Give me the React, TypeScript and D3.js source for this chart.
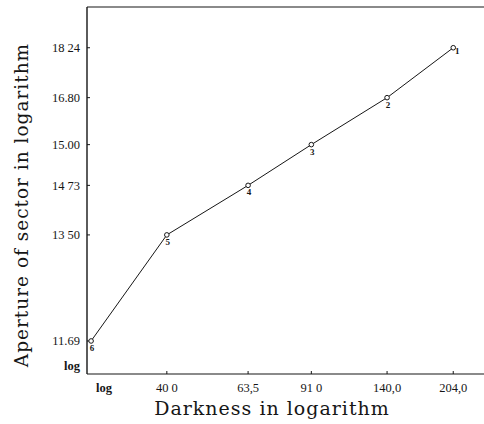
import { useEffect, useRef } from "react";
import * as d3 from "d3";

// Points numbered 1..6 as in the original plate (left to right: 6,5,4,3,2,1)
const pointLabels = ["6", "5", "4", "3", "2", "1"];
// darkness of each point (the first one is unlabeled)
const darkness = [26, 40, 63.5, 91, 140, 204];
// vertical level of each point, as a fraction of the axis height
const apertureLevel = [0.09, 0.379, 0.514, 0.625, 0.753, 0.889];
// labels written at those levels
const apertureLabels = ["11.69", "13 50", "14 73", "15.00", "16.80", "18 24"];
const darknessLabels = ["", "40 0", "63,5", "91 0", "140,0", "204,0"];

export default function App() {
  const svgRef = useRef<SVGSVGElement>(null);

  useEffect(() => {
    const width = 484;
    const height = 424;
    const marginLeft = 87,
      marginTop = 7,
      marginRight = 0,
      marginBottom = 50;
    const font = "'Liberation Serif', 'DejaVu Serif', serif";
    const titleFont = "'DejaVu Serif', serif";
    const ink = "#161616";

    const x = d3
      .scaleLog()
      .domain([25.4, 243])
      .range([marginLeft, width - marginRight]);

    const y = d3
      .scaleLinear()
      .domain([0, 1])
      .range([height - marginBottom, marginTop]);

    const svg = d3
      .select(svgRef.current)
      .attr("width", width)
      .attr("height", height);

    svg.selectAll("*").remove();

    svg.append("rect").attr("width", width).attr("height", height).attr("fill", "#fff");

    // frame: left, top and bottom lines
    const x0 = marginLeft;
    const x1 = width - marginRight;
    const yb = y(0);
    const yt = y(1);
    const frame = svg.append("g").attr("stroke", ink).attr("fill", "none");
    frame.append("line").attr("x1", x0).attr("x2", x0).attr("y1", yt).attr("y2", yb).attr("stroke-width", 1.4);
    frame.append("line").attr("x1", x0).attr("x2", x1).attr("y1", yt).attr("y2", yt).attr("stroke-width", 1.2);
    frame.append("line").attr("x1", x0).attr("x2", x1).attr("y1", yb).attr("y2", yb).attr("stroke-width", 1.2);

    // y ticks and labels
    const yTicks = svg.append("g");
    yTicks
      .selectAll("line")
      .data(apertureLevel)
      .join("line")
      .attr("x1", x0)
      .attr("x2", x0 + 3)
      .attr("y1", (d) => y(d))
      .attr("y2", (d) => y(d))
      .attr("stroke", ink);
    yTicks
      .selectAll("text")
      .data(apertureLevel)
      .join("text")
      .attr("x", x0 - 7)
      .attr("y", (d) => y(d))
      .attr("dy", "0.35em")
      .attr("text-anchor", "end")
      .attr("font-family", font)
      .attr("font-size", 12.5)
      .attr("fill", ink)
      .text((_, i) => apertureLabels[i]);
    svg
      .append("text")
      .attr("x", x0 - 7)
      .attr("y", yb - 8)
      .attr("dy", "0.35em")
      .attr("text-anchor", "end")
      .attr("font-family", font)
      .attr("font-size", 12.5)
      .attr("font-weight", "bold")
      .attr("fill", ink)
      .text("log");

    // x ticks and labels
    const xTicks = svg.append("g");
    xTicks
      .selectAll("line")
      .data(darkness.slice(1))
      .join("line")
      .attr("x1", (d) => x(d))
      .attr("x2", (d) => x(d))
      .attr("y1", yb)
      .attr("y2", yb - 3)
      .attr("stroke", ink);
    xTicks
      .selectAll("text")
      .data(darkness.slice(1))
      .join("text")
      .attr("x", (d) => x(d))
      .attr("y", yb + 18)
      .attr("text-anchor", "middle")
      .attr("font-family", font)
      .attr("font-size", 12.5)
      .attr("fill", ink)
      .text((_, i) => darknessLabels[i + 1]);
    svg
      .append("text")
      .attr("x", x0 + 17)
      .attr("y", yb + 18)
      .attr("text-anchor", "middle")
      .attr("font-family", font)
      .attr("font-size", 12.5)
      .attr("font-weight", "bold")
      .attr("fill", ink)
      .text("log");

    // axis titles
    svg
      .append("text")
      .attr("x", 272)
      .attr("y", yb + 41)
      .attr("text-anchor", "middle")
      .attr("font-family", titleFont)
      .attr("font-size", 19)
      .attr("letter-spacing", 1)
      .attr("fill", ink)
      .text("Darkness in logarithm");
    svg
      .append("text")
      .attr("transform", `translate(28,205) rotate(-90)`)
      .attr("text-anchor", "middle")
      .attr("font-family", titleFont)
      .attr("font-size", 18.5)
      .attr("letter-spacing", 1)
      .attr("fill", ink)
      .text("Aperture of sector in logarithm");

    // the curve
    const pts = darkness.map((d, i) => [x(d), y(apertureLevel[i])] as [number, number]);
    svg
      .append("path")
      .attr("d", d3.line()(pts))
      .attr("fill", "none")
      .attr("stroke", ink)
      .attr("stroke-width", 1);

    svg
      .append("g")
      .selectAll("circle")
      .data(pts)
      .join("circle")
      .attr("cx", (d) => d[0])
      .attr("cy", (d) => d[1])
      .attr("r", 2.3)
      .attr("fill", "#fff")
      .attr("stroke", ink)
      .attr("stroke-width", 1);

    svg
      .append("g")
      .selectAll("text")
      .data(pts)
      .join("text")
      .attr("x", (d, i) => d[0] + (i === pts.length - 1 ? 4 : 1))
      .attr("y", (d, i) => d[1] + (i === pts.length - 1 ? 6 : 10))
      .attr("text-anchor", "middle")
      .attr("font-family", font)
      .attr("font-size", 9)
      .attr("font-weight", "bold")
      .attr("fill", ink)
      .text((_, i) => pointLabels[i]);
  }, []);

  return (
    <div style={{ position: "fixed", left: 0, top: 0 }}>
      <svg ref={svgRef}></svg>
    </div>
  );
}
